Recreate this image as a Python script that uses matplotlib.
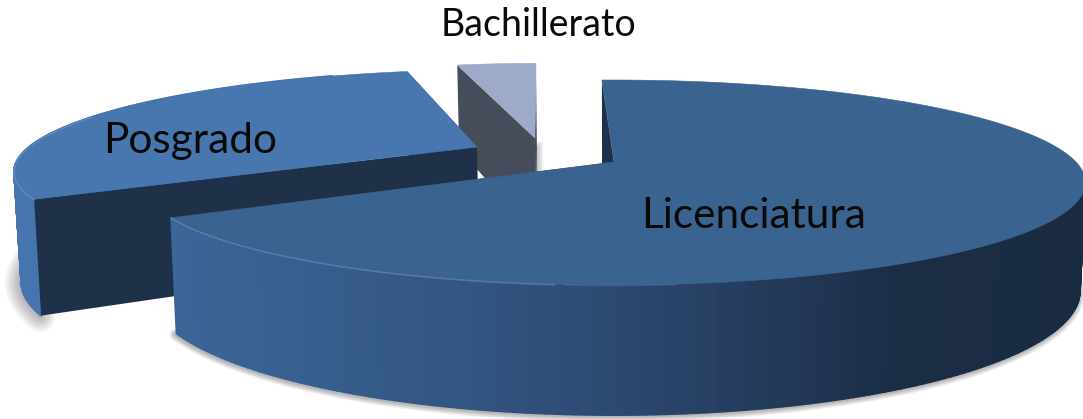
import numpy as np
import matplotlib
matplotlib.use("Agg")
import matplotlib.pyplot as plt
from matplotlib.collections import PolyCollection
from matplotlib.colors import to_rgb

categories = ["Licenciatura", "Posgrado", "Bachillerato"]
values = [67.0, 29.6, 3.4]

explode_x = [0.0, -0.306, -0.18]
explode_y = [0.0, -0.157, -0.257]
depth_scale = [1.0, 1.04, 1.0]
top_colors = ["#3b638f", "#4877b0", "#9eabc8"]
cut_colors = ["#1e3149", "#1e3149", "#464c5a"]
wall_stops = [
    [(170, "#3c6598"), (350, "#365c8a"), (480, "#325480"), (620, "#2c486f"),
     (760, "#243c5c"), (900, "#1b2d45"), (1090, "#1a2b41")],
    [(0, "#4674ad"), (60, "#4674ad")],
    [(0, "#9eabc8"), (1090, "#9eabc8")],
]
shadow_width = [9, 22, 0]
label_pos = [(754, 216), (190, 141), (539, 25)]
label_size = [30.5, 30.5, 27.0]

start_angle = -1.8
CX, CY, A, B, K, DEPTH, SHRINK = 614, 162, 462, 98.4, 0.2, 104, 0.988


def project(X, Y, down=0.0):
    s = 1 / (1 - K * Y)
    x = CX + A * X * s
    y = CY + B * Y * s
    if down:
        x = CX + (x - CX) * SHRINK
        y = y + DEPTH * down * s
    return x, y


def wall_color(stops, x):
    xs = [p for p, _ in stops]
    cols = np.array([to_rgb(c) for _, c in stops])
    return np.array([np.interp(x, xs, cols[:, i]) for i in range(3)])


fig = plt.figure(figsize=(10.83, 4.19), dpi=100)
ax = fig.add_axes([0, 0, 1, 1])
ax.set_xlim(0, 1083)
ax.set_ylim(419, 0)
ax.axis("off")

angles = np.cumsum([0.0] + values) / sum(values) * 360 + start_angle

for i in [2, 1, 0]:
    t0, t1 = np.radians(angles[i]), np.radians(angles[i + 1])
    th = np.linspace(t0, t1, 240)
    ox, oy = explode_x[i], explode_y[i]
    X, Y = ox + np.sin(th), oy - np.cos(th)
    xt, yt = project(X, Y)
    xb, yb = project(X, Y, depth_scale[i])
    cx0, cy0 = project(ox, oy)
    cx1, cy1 = project(ox, oy, depth_scale[i])
    visible = np.cos(th) < -0.15 if i == 0 else np.cos(th) < 0.9

    # soft shadow under the lower edge
    if shadow_width[i]:
        for w in np.linspace(shadow_width[i], 2, 8):
            ax.plot(xb[visible] - 1, yb[visible] + 1, color="k", alpha=0.04, lw=w,
                    solid_capstyle="round", zorder=i * -10 - 5)
    else:
        for w in np.linspace(12, 2, 6):
            ax.plot([cx0, cx1], [cy0 + 12, cy1], color="k", alpha=0.05, lw=w, zorder=-25.5)

    # hidden cut face
    ax.fill([cx0, xt[-1], xb[-1], cx1], [cy0, yt[-1], yb[-1], cy1],
            color=cut_colors[i], lw=0, zorder=i * -10 - 4)

    # outer wall
    if shadow_width[i]:
        idx = [j for j in range(len(th) - 1) if visible[j]]
        quads = [[(xt[j], yt[j]), (xt[j + 1], yt[j + 1]), (xb[j + 1], yb[j + 1]), (xb[j], yb[j])]
                 for j in idx]
        cols = [wall_color(wall_stops[i], (xt[j] + xt[j + 1]) / 2) for j in idx]
        ax.add_collection(PolyCollection(quads, facecolors=cols, edgecolors=cols, linewidths=1.4,
                                         zorder=i * -10 - 3))

    # visible cut face
    ax.fill([cx0, xt[0], xb[0], cx1], [cy0, yt[0], yb[0], cy1],
            color=cut_colors[i], lw=0, zorder=i * -10 - 2)

    # top face
    ax.fill(np.r_[cx0, xt], np.r_[cy0, yt], color=top_colors[i], lw=0.4, zorder=i * -10 - 1)

    # light bevel along the front rim
    if i != 2:
        strong = (np.cos(th) < 0.35) & (xt < 560)
        weak = (np.cos(th) < 0.35) & (xt >= 560) & (xt < 680)
        ax.plot(xt[strong], yt[strong] + 0.5, color="#6f9bd0", alpha=0.5, lw=1.1, zorder=i * -10 - 0.5)
        ax.plot(xt[weak], yt[weak] + 0.5, color="#6f9bd0", alpha=0.22, lw=1.1, zorder=i * -10 - 0.5)

for name, (lx, ly), size in zip(categories, label_pos, label_size):
    ax.text(lx, ly, name, ha="center", va="center", fontsize=size, family="Lato",
            color="#0a0a0a", zorder=5)

fig.savefig("out.png", dpi=100)
